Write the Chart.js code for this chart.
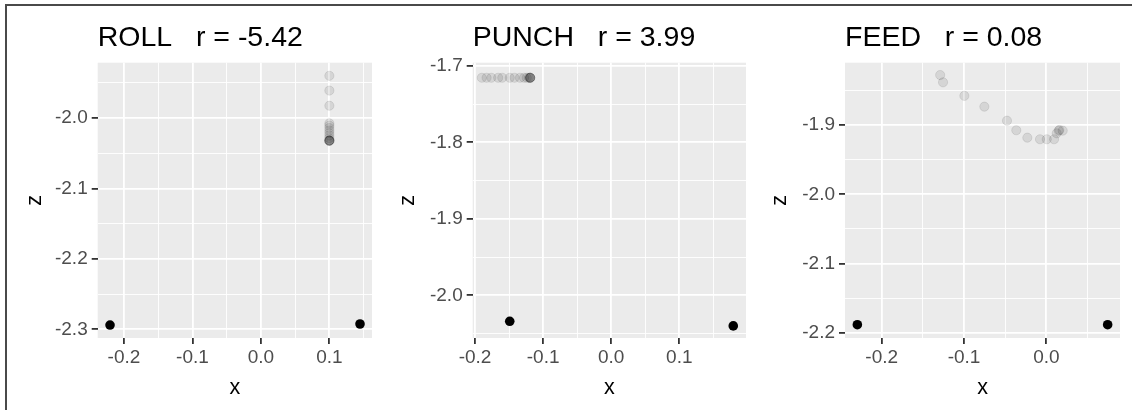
<!DOCTYPE html>
<html>
<head>
<meta charset="utf-8">
<script src="https://cdn.jsdelivr.net/npm/chart.js@4.4.1/dist/chart.umd.min.js"></script>
<style>
  html, body { margin: 0; padding: 0; background: #fff; }
  body { width: 1132px; height: 410px; position: relative; overflow: hidden; }
  .frame { position: absolute; left: 5px; top: 4px; right: -4px; bottom: -4px; border-left: 2px solid #4a4a4a; border-top: 2px solid #4a4a4a; }
  .panel { position: absolute; top: 0; height: 410px; }
</style>
</head>
<body>
<div class="frame"></div>
<div class="panel" style="left:0;width:380px"><canvas id="rollChart"></canvas></div>
<div class="panel" style="left:380px;width:375px"><canvas id="punchChart"></canvas></div>
<div class="panel" style="left:755px;width:377px"><canvas id="feedChart"></canvas></div>
<script>
// ROLL   r = -5.42
const rollEndX = [-0.2204, 0.1448];
const rollEndZ = [-2.294, -2.2925];
const rollPathX = [0.1, 0.1, 0.1, 0.1, 0.1, 0.1, 0.1, 0.1, 0.1, 0.1, 0.1, 0.1, 0.1, 0.1, 0.1, 0.1];
const rollPathZ = [-1.940, -1.961, -1.9825, -2.0075, -2.0107, -2.0142, -2.0178, -2.0213, -2.0249, -2.0284, -2.0313, -2.0322, -2.0322, -2.0322, -2.0322, -2.0322];

// PUNCH   r = 3.99
const punchEndX = [-0.149, 0.1793];
const punchEndZ = [-2.034, -2.040];
const punchPathX = [-0.190, -0.183, -0.176, -0.166, -0.160, -0.149, -0.142, -0.134, -0.128, -0.124, -0.121, -0.119, -0.119, -0.119, -0.119, -0.119];
const punchPathZ = [-1.7157, -1.7157, -1.7157, -1.7157, -1.7157, -1.7157, -1.7157, -1.7157, -1.7157, -1.7157, -1.7157, -1.7157, -1.7157, -1.7157, -1.7157, -1.7157];

// FEED   r = 0.08
const feedEndX = [-0.2296, 0.0745];
const feedEndZ = [-2.188, -2.188];
const feedPathX = [-0.129, -0.1255, -0.0996, -0.0753, -0.0478, -0.0365, -0.0231, -0.0077, 0.0005, 0.0094, 0.0126, 0.0158, 0.0199, 0.0150];
const feedPathZ = [-1.828, -1.8385, -1.858, -1.8736, -1.8938, -1.9076, -1.9183, -1.9206, -1.9206, -1.9206, -1.912, -1.9072, -1.9082, -1.9085];

Chart.defaults.font.family = '"Liberation Sans", Arial, sans-serif';

function isMajor(v) {
    return Math.abs(v * 10 - Math.round(v * 10)) < 1e-6;
}

function toPoints(xs, zs) {
    return xs.map((x, i) => ({ x: x, y: zs[i] }));
}

// grey panel background like ggplot
const panelBackground = {
    id: 'panelBackground',
    beforeDraw(chart) {
        const { ctx, chartArea: a } = chart;
        ctx.save();
        ctx.fillStyle = '#EBEBEB';
        ctx.fillRect(a.left, a.top, a.right - a.left, a.bottom - a.top);
        ctx.restore();
    }
};

function makePanel(id, p) {
    const gridOpts = {
        color: '#FFFFFF',
        lineWidth: ctx => isMajor(ctx.tick.value) ? 1.8 : 0.9,
        tickColor: ctx => isMajor(ctx.tick.value) ? '#333333' : 'rgba(0,0,0,0)',
        tickWidth: 1.8,
        tickLength: 6
    };
    return new Chart(document.getElementById(id), {
        type: 'scatter',
        data: {
            datasets: [{
                data: toPoints(p.endX, p.endZ),
                backgroundColor: '#000000',
                borderWidth: 0,
                pointRadius: 4.8
            }, {
                data: toPoints(p.pathX, p.pathZ),
                backgroundColor: 'rgba(0,0,0,0.09)',
                borderColor: 'rgba(0,0,0,0.09)',
                borderWidth: 1,
                pointRadius: 4.6
            }]
        },
        options: {
            responsive: true,
            maintainAspectRatio: false,
            animation: false,
            events: [],
            layout: { padding: { left: 0, right: p.rightPad, top: 0, bottom: 0 } },
            plugins: {
                legend: { display: false },
                tooltip: { enabled: false },
                title: {
                    display: true,
                    text: p.title,
                    align: 'start',
                    fullSize: false,
                    color: '#000000',
                    font: { size: 28.5, weight: 'normal' },
                    padding: { top: 21, bottom: 7.5 }
                }
            },
            scales: {
                x: {
                    type: 'linear',
                    min: p.xMin,
                    max: p.xMax,
                    border: { display: false },
                    grid: gridOpts,
                    ticks: {
                        stepSize: 0.05,
                        includeBounds: false,
                        autoSkip: false,
                        maxRotation: 0,
                        minRotation: 0,
                        padding: 2,
                        color: '#4D4D4D',
                        font: { size: 19 },
                        callback: v => isMajor(v) ? v.toFixed(1) : ''
                    },
                    title: {
                        display: true,
                        text: 'x',
                        color: '#000000',
                        font: { size: 21.5 },
                        padding: { top: 0, bottom: 9 }
                    },
                    afterFit: s => { s.height = 72; }
                },
                y: {
                    type: 'linear',
                    min: p.yMin,
                    max: p.yMax,
                    border: { display: false },
                    grid: gridOpts,
                    ticks: {
                        stepSize: 0.05,
                        includeBounds: false,
                        autoSkip: false,
                        padding: 4,
                        color: '#4D4D4D',
                        font: { size: 19 },
                        callback: v => isMajor(v) ? v.toFixed(1) : ''
                    },
                    title: {
                        display: true,
                        text: 'z',
                        color: '#000000',
                        font: { size: 21.5 },
                        padding: { top: p.zPad, bottom: 0 }
                    },
                    afterFit: s => { s.width = p.yAxisWidth; }
                }
            }
        },
        plugins: [panelBackground]
    });
}

makePanel('rollChart', {
    title: 'ROLL   r = -5.42',
    endX: rollEndX, endZ: rollEndZ, pathX: rollPathX, pathZ: rollPathZ,
    xMin: -0.2384, xMax: 0.1623, yMin: -2.3124, yMax: -1.9214,
    yAxisWidth: 97.7, rightPad: 8, zPad: 22
});

makePanel('punchChart', {
    title: 'PUNCH   r = 3.99',
    endX: punchEndX, endZ: punchEndZ, pathX: punchPathX, pathZ: punchPathZ,
    xMin: -0.2034, xMax: 0.198, yMin: -2.0558, yMax: -1.696,
    yAxisWidth: 92.7, rightPad: 9, zPad: 15
});

makePanel('feedChart', {
    title: 'FEED   r = 0.08',
    endX: feedEndX, endZ: feedEndZ, pathX: feedPathX, pathZ: feedPathZ,
    xMin: -0.2446, xMax: 0.0895, yMin: -2.2072, yMax: -1.8102,
    yAxisWidth: 90, rightPad: 12, zPad: 12
});
</script>
</body>
</html>
